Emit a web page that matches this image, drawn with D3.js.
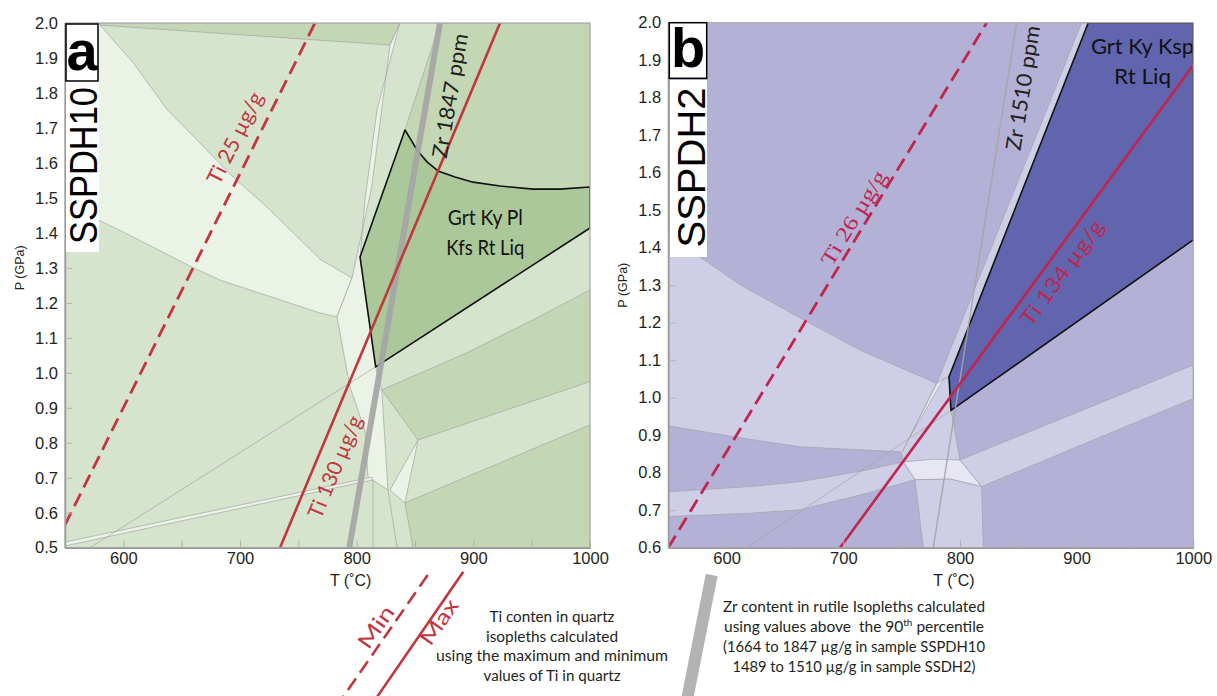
<!DOCTYPE html>
<html>
<head>
<meta charset="utf-8">
<script src="https://cdn.jsdelivr.net/npm/d3@7"></script>
<style>
  body { margin: 0; background: #fff; }
  svg { display: block; }
  text { font-family: "Liberation Sans", Arial, sans-serif; fill: #231f20; }
</style>
</head>
<body>
<div id="chart"></div>
<script>
// ---------- data (T in °C, P in GPa) ----------
const tTicks = [600, 700, 800, 900, 1000];
const tMinor = [650, 750, 850, 950];
const pTicksA = [0.5, 0.6, 0.7, 0.8, 0.9, 1.0, 1.1, 1.2, 1.3, 1.4, 1.5, 1.6, 1.7, 1.8, 1.9, 2.0];
const pTicksB = [0.6, 0.7, 0.8, 0.9, 1.0, 1.1, 1.2, 1.3, 1.4, 1.5, 1.6, 1.7, 1.8, 1.9, 2.0];

// panel a - SSPDH10 field boundaries
const aLiqTop = [[841.4, 1.694], [846.6, 1.666], [851.7, 1.637], [860.3, 1.603], [869.7, 1.577], [884.3, 1.560], [899.7, 1.545], [922.9, 1.534], [951.1, 1.525], [974.3, 1.525], [1000, 1.531]];
const aDark1 = [[580, 2.0], [837.1, 2.0], [828.6, 1.937], [580, 1.994]];
const aDark2 = [[871.4, 2.0], [1000, 2.0]].concat(aLiqTop.slice().reverse());
const aDark3 = [[821.5, 0.951], [894.3, 1.057], [951.1, 1.151], [1000, 1.237], [1000, 0.975], [852.6, 0.808]];
const aDark4 = [[841.4, 0.628], [1000, 0.851], [1000, 0.5], [848.3, 0.5]];
const aPale1 = [[550, 2.0], [578.3, 2.0], [580, 1.994], [608.6, 1.886], [637.7, 1.752], [665.7, 1.657], [694, 1.560], [723.1, 1.474], [768.6, 1.325], [796, 1.271], [783.1, 1.160], [768.6, 1.171], [682.9, 1.265], [658.9, 1.302], [601.4, 1.4], [550, 1.483]];
const aPale2 = [[828.6, 1.937], [837.1, 2.0], [817.4, 1.751], [807.1, 1.494], [802.9, 1.331], [816.3, 1.017], [821.5, 0.951], [826.9, 0.665], [809.7, 0.702], [807.1, 0.836], [794.3, 0.959], [783.1, 1.160], [796, 1.271], [812.9, 1.531]];
const aPale3 = [[852.6, 0.808], [828.6, 0.665], [841.4, 0.628]];
const aPale4 = [[550, 0.516], [813.1, 0.702], [814, 0.694], [550, 0.505]];
const aSeams = [
  [[816.3, 1.017], [768.6, 0.917], [571.4, 0.5]],
  [[814, 0.694], [814, 0.5]],
  [[826.9, 0.665], [834.6, 0.5]]
];
const aLiq = aLiqTop.concat([[1000, 1.414], [816.3, 1.017], [802.9, 1.331]]);
const aTi25 = [[550, 0.565], [764.3, 2.0]];
const aTi130 = [[734.3, 0.5], [922.9, 2.0]];
const aZr1847 = [[793.7, 0.5], [871.4, 2.0]];

// panel b - SSPDH2 field boundaries
const bPale1 = [[550, 1.442], [577.2, 1.375], [611.5, 1.301], [662.9, 1.213], [714.3, 1.127], [780.1, 1.038], [750, 0.852], [748.6, 0.856], [662.9, 0.869], [605.5, 0.896], [550, 0.925]];
const bStrip = [[904.3, 2.0], [910, 2.0], [790.6, 1.056], [780.1, 1.038]];
const bMid = [[780.1, 1.038], [790.6, 1.056], [792.3, 0.966], [800, 0.834], [751.4, 0.829], [750, 0.852]];
const bWedge = [[780.1, 1.038], [786, 1.05], [757.2, 0.896]];
const bWhite = [[751.4, 0.829], [777.1, 0.836], [800, 0.834], [818.6, 0.763], [791.4, 0.783], [761.5, 0.781]];
const bBandR = [[800, 0.834], [1000, 1.087], [1000, 0.998], [818.6, 0.763]];
const bBandL = [[550, 0.749], [620, 0.763], [662.9, 0.776], [720.1, 0.807], [751.4, 0.829], [761.5, 0.781], [720.1, 0.745], [662.9, 0.701], [620, 0.692], [550, 0.683]];
const bBottom = [[761.5, 0.781], [791.4, 0.783], [818.6, 0.763], [820, 0.6], [768.6, 0.6]];
const bSeams = [[[617.2, 0.6], [792.3, 0.966]]];
const bLiq = [[910, 2.0], [1000, 2.0], [1000, 1.421], [792.3, 0.966], [790.6, 1.056]];
const bTi26 = [[550, 0.6], [822.9, 2.0]];
const bTi134 = [[697.2, 0.6], [1000, 1.887]];
const bZr1510 = [[777.1, 0.6], [848.6, 2.0]];

// ---------- setup ----------
const W = 1217, H = 696;
const svg = d3.select("#chart").append("svg").attr("width", W).attr("height", H);

const panels = [
  {
    tag: "a", sample: "SSPDH10",
    box: { left: 65, right: 590, top: 23, bottom: 547.7 },
    pDomain: [0.5, 2.0], pTicks: pTicksA,
    tones: { bg: "#d6e4cd", pale: "#ebf2e6", white: "#f2f6ef", dark: "#c4d7b5", liq: "#abc89b" },
    red: "#c1373e",
    fields: [
      { tone: "dark", pts: aDark1 }, { tone: "dark", pts: aDark2 },
      { tone: "dark", pts: aDark3 }, { tone: "dark", pts: aDark4 },
      { tone: "pale", pts: aPale1 }, { tone: "pale", pts: aPale2 },
      { tone: "pale", pts: aPale3 }, { tone: "pale", pts: aPale4 }
    ],
    seams: aSeams, liq: aLiq,
    ti: [{ pts: aTi25, dashed: true }, { pts: aTi130 }],
    zr: { pts: aZr1847, width: 6 },
    labels: [
      { text: "Ti 25 µg/g", at: [695.7, 1.671], along: aTi25, len: 100, red: true },
      { text: "Ti 130 µg/g", at: [781.4, 0.731], along: aTi130, len: 109, red: true },
      { text: "Zr 1847 ppm", at: [880, 1.792], along: aZr1847, len: 126 }
    ],
    liqText: ["Grt Ky Pl", "Kfs Rt Liq"], liqLens: [75, 78], liqAt: [910.3, 1.403],
    tagBox: [66, 24, 32, 57], sampleBox: [66, 81, 33, 171], sampleLen: 157
  },
  {
    tag: "b", sample: "SSPDH2",
    box: { left: 668.3, right: 1193.3, top: 22.7, bottom: 547.7 },
    pDomain: [0.6, 2.0], pTicks: pTicksB,
    tones: { bg: "#b3b2d6", pale: "#cfcee7", white: "#e7e6f3", dark: "#b3b2d6", liq: "#6165ae" },
    red: "#bf2550",
    fields: [
      { tone: "pale", pts: bPale1 }, { tone: "pale", pts: bStrip },
      { tone: "pale", pts: bMid }, { tone: "white", pts: bWedge },
      { tone: "white", pts: bWhite }, { tone: "pale", pts: bBandR },
      { tone: "pale", pts: bBandL }, { tone: "pale", pts: bBottom }
    ],
    seams: bSeams, liq: bLiq,
    ti: [{ pts: bTi26, dashed: true }, { pts: bTi134 }],
    zr: { pts: bZr1510, width: 1.4 },
    labels: [
      { text: "Ti 26 µg/g", at: [708.6, 1.48], along: bTi26, len: 107, red: true, serif: true },
      { text: "Ti 134 µg/g", at: [887.5, 1.333], along: bTi134, len: 125, red: true },
      { text: "Zr 1510 ppm", at: [854, 1.826], along: bZr1510, len: 126 }
    ],
    liqText: ["Grt Ky Ksp", "Rt Liq"], liqLens: [103, 57], liqAt: [956.5, 1.896],
    tagBox: [669.3, 22.7, 37.4, 55.6], sampleBox: [670, 80, 37, 177], sampleLen: 160
  }
];

const drawPanel = (cfg) => {
  const b = cfg.box;
  const x = d3.scaleLinear().domain([550, 1000]).range([b.left, b.right]);
  const y = d3.scaleLinear().domain(cfg.pDomain).range([b.bottom, b.top]);
  const line = d3.line().x((d) => x(d[0])).y((d) => y(d[1]));

  const clipId = "clip-" + cfg.tag;
  svg.append("clipPath").attr("id", clipId).append("rect")
    .attr("x", b.left).attr("y", b.top)
    .attr("width", b.right - b.left).attr("height", b.bottom - b.top);

  const g = svg.append("g");
  const plot = g.append("g").attr("clip-path", `url(#${clipId})`);

  // base field
  plot.append("rect")
    .attr("x", b.left).attr("y", b.top)
    .attr("width", b.right - b.left).attr("height", b.bottom - b.top)
    .attr("fill", cfg.tones.bg);

  // stability fields
  plot.selectAll("path.field")
    .data(cfg.fields)
    .join("path")
    .attr("class", "field")
    .attr("d", (d) => line(d.pts) + "Z")
    .attr("fill", (d) => cfg.tones[d.tone])
    .attr("stroke", "#a3a3a3")
    .attr("stroke-width", 0.7);

  plot.selectAll("path.seam")
    .data(cfg.seams)
    .join("path")
    .attr("class", "seam")
    .attr("d", line)
    .attr("fill", "none")
    .attr("stroke", "#a3a3a3")
    .attr("stroke-width", 0.7);

  // highlighted assemblage
  plot.append("path")
    .attr("d", line(cfg.liq) + "Z")
    .attr("fill", cfg.tones.liq)
    .attr("stroke", "#111")
    .attr("stroke-width", 1.6)
    .attr("stroke-linejoin", "round");

  // Zr isopleth
  plot.append("path")
    .attr("d", line(cfg.zr.pts))
    .attr("fill", "none")
    .attr("stroke", "#a5a5a5")
    .attr("stroke-opacity", 0.92)
    .attr("stroke-width", cfg.zr.width);

  // Ti isopleths
  plot.selectAll("path.ti")
    .data(cfg.ti)
    .join("path")
    .attr("class", "ti")
    .attr("d", (d) => line(d.pts))
    .attr("fill", "none")
    .attr("stroke", cfg.red)
    .attr("stroke-width", (d) => (d.dashed ? 2.8 : 2.6))
    .attr("stroke-dasharray", (d) => (d.dashed ? "14 7" : null));

  // isopleth labels, rotated along their line
  cfg.labels.forEach((l) => {
    const p0 = l.along[0], p1 = l.along[1];
    const ang = Math.atan2(y(p1[1]) - y(p0[1]), x(p1[0]) - x(p0[0])) * 180 / Math.PI;
    g.append("text")
      .attr("transform", `translate(${x(l.at[0])},${y(l.at[1])}) rotate(${ang})`)
      .attr("text-anchor", "middle")
      .attr("dy", "0.35em")
      .attr("textLength", l.len)
      .attr("lengthAdjust", "spacingAndGlyphs")
      .style("font-family", l.serif ? "'Liberation Serif', serif" : "Lato, 'Open Sans', sans-serif")
      .style("font-size", "21px")
      .style("fill", l.red ? cfg.red : "#231f20")
      .text(l.text);
  });

  // assemblage label
  cfg.liqText.forEach((t, i) => {
    g.append("text")
      .attr("x", x(cfg.liqAt[0]))
      .attr("y", y(cfg.liqAt[1]) + (i - 0.5) * 30)
      .attr("dy", "0.35em")
      .attr("text-anchor", "middle")
      .attr("textLength", cfg.liqLens[i])
      .attr("lengthAdjust", "spacingAndGlyphs")
      .style("font-family", "Lato, 'Open Sans', sans-serif")
      .style("font-size", "22px")
      .style("fill", "#111")
      .text(t);
  });

  // frame
  g.append("rect")
    .attr("x", b.left).attr("y", b.top)
    .attr("width", b.right - b.left).attr("height", b.bottom - b.top)
    .attr("fill", "none")
    .attr("stroke", "#a8a8a8")
    .attr("stroke-width", 1.2);

  // axes, ticks pointing inward
  const yAxis = d3.axisLeft(y)
    .tickValues(cfg.pTicks)
    .tickFormat(d3.format(".1f"))
    .tickSizeInner(-7).tickSizeOuter(0).tickPadding(7);
  const yG = g.append("g").attr("transform", `translate(${b.left},0)`).call(yAxis);

  const xAxis = d3.axisBottom(x)
    .tickValues(tTicks.concat(tMinor))
    .tickFormat((d) => (tTicks.includes(d) ? d : ""))
    .tickSizeInner(-7).tickSizeOuter(0).tickPadding(5);
  const xG = g.append("g").attr("transform", `translate(0,${b.bottom})`).call(xAxis);

  [yG, xG].forEach((ax) => {
    ax.select(".domain").attr("stroke", "#999").attr("stroke-width", 1.5);
    ax.selectAll(".tick line").attr("stroke", "#b0b0b0");
    ax.selectAll(".tick text")
      .style("font-family", "'Liberation Sans', Arial, sans-serif")
      .style("font-size", "16.5px")
      .style("fill", "#231f20");
  });

  g.append("text")
    .attr("transform", `translate(${b.left - 41},${y(1.3) + 0})rotate(-90)`)
    .attr("text-anchor", "middle")
    .style("font-size", "12.5px")
    .text("P (GPa)");

  g.append("text")
    .attr("x", x(800) - 6)
    .attr("y", b.bottom + 38)
    .attr("text-anchor", "middle")
    .style("font-size", "16px")
    .text("T (˚C)");

  // panel tag and sample name
  const tb = cfg.tagBox, sb = cfg.sampleBox;
  g.append("rect")
    .attr("x", sb[0]).attr("y", sb[1]).attr("width", sb[2]).attr("height", sb[3])
    .attr("fill", "#fff");
  g.append("text")
    .attr("transform", `translate(${sb[0] + sb[2] - 2},${sb[1] + sb[3] / 2 - 1})rotate(-90)`)
    .attr("text-anchor", "middle")
    .attr("textLength", cfg.sampleLen)
    .attr("lengthAdjust", "spacingAndGlyphs")
    .style("font-size", "39px")
    .style("fill", "#000")
    .text(cfg.sample);
  g.append("rect")
    .attr("x", tb[0]).attr("y", tb[1]).attr("width", tb[2]).attr("height", tb[3])
    .attr("fill", "#fff").attr("stroke", "#000").attr("stroke-width", 1.5);
  g.append("text")
    .attr("x", tb[0] + tb[2] / 2)
    .attr("y", tb[1] + tb[3] - 11)
    .attr("text-anchor", "middle")
    .style("font-size", "56px")
    .style("font-weight", "bold")
    .style("fill", "#000")
    .text(cfg.tag);
};

panels.forEach(drawPanel);

// ---------- legend under the panels ----------
const legend = svg.append("g");
const redA = panels[0].red;

legend.append("line")
  .attr("x1", 427.7).attr("y1", 575).attr("x2", 341).attr("y2", 700)
  .attr("stroke", redA).attr("stroke-width", 2.6).attr("stroke-dasharray", "14 7");
legend.append("line")
  .attr("x1", 463.3).attr("y1", 571.7).attr("x2", 375).attr("y2", 700)
  .attr("stroke", redA).attr("stroke-width", 2.6);

[["Min", 376, 627, 47], ["Max", 439, 622, 51]].forEach(([t, cx, cy, len]) => {
  legend.append("text")
    .attr("transform", `translate(${cx},${cy})rotate(-55)`)
    .attr("text-anchor", "middle")
    .attr("dy", "0.35em")
    .attr("textLength", len)
    .attr("lengthAdjust", "spacingAndGlyphs")
    .style("font-family", "Lato, 'Open Sans', sans-serif")
    .style("font-size", "21px")
    .style("fill", redA)
    .text(t);
});

const tiNote = ["Ti conten in quartz", "isopleths calculated", "using the maximum and minimum", "values of Ti in quartz"];
const tiNoteLens = [125, 132, 232, 137];
tiNote.forEach((t, i) => {
  legend.append("text")
    .attr("x", 552).attr("y", 622 + i * 19.5)
    .attr("text-anchor", "middle")
    .attr("textLength", tiNoteLens[i])
    .attr("lengthAdjust", "spacingAndGlyphs")
    .style("font-family", "Lato, 'Open Sans', sans-serif")
    .style("font-size", "15.5px")
    .text(t);
});

legend.append("line")
  .attr("x1", 711.7).attr("y1", 575).attr("x2", 687).attr("y2", 700)
  .attr("stroke", "#b3b3b3").attr("stroke-width", 12);

const zrNoteLens = [262, null, 262, 243];
const zrLines = [
  ["Zr content in rutile Isopleths calculated"],
  ["using values above  the 90", "th", " percentile"],
  ["(1664 to 1847 µg/g in sample SSPDH10"],
  ["1489 to 1510 µg/g in sample SSDH2)"]
];
zrLines.forEach((parts, i) => {
  const t = legend.append("text")
    .attr("x", 854).attr("y", 612 + i * 20)
    .attr("text-anchor", "middle")
    .style("font-family", "Lato, 'Open Sans', sans-serif")
    .style("font-size", "15.5px")
    .style("white-space", "pre");
  if (zrNoteLens[i]) t.attr("textLength", zrNoteLens[i]).attr("lengthAdjust", "spacingAndGlyphs");
  parts.forEach((p, j) => {
    const ts = t.append("tspan").text(p);
    if (j === 1) ts.attr("baseline-shift", "super").style("font-size", "10px");
  });
});
</script>
</body>
</html>
